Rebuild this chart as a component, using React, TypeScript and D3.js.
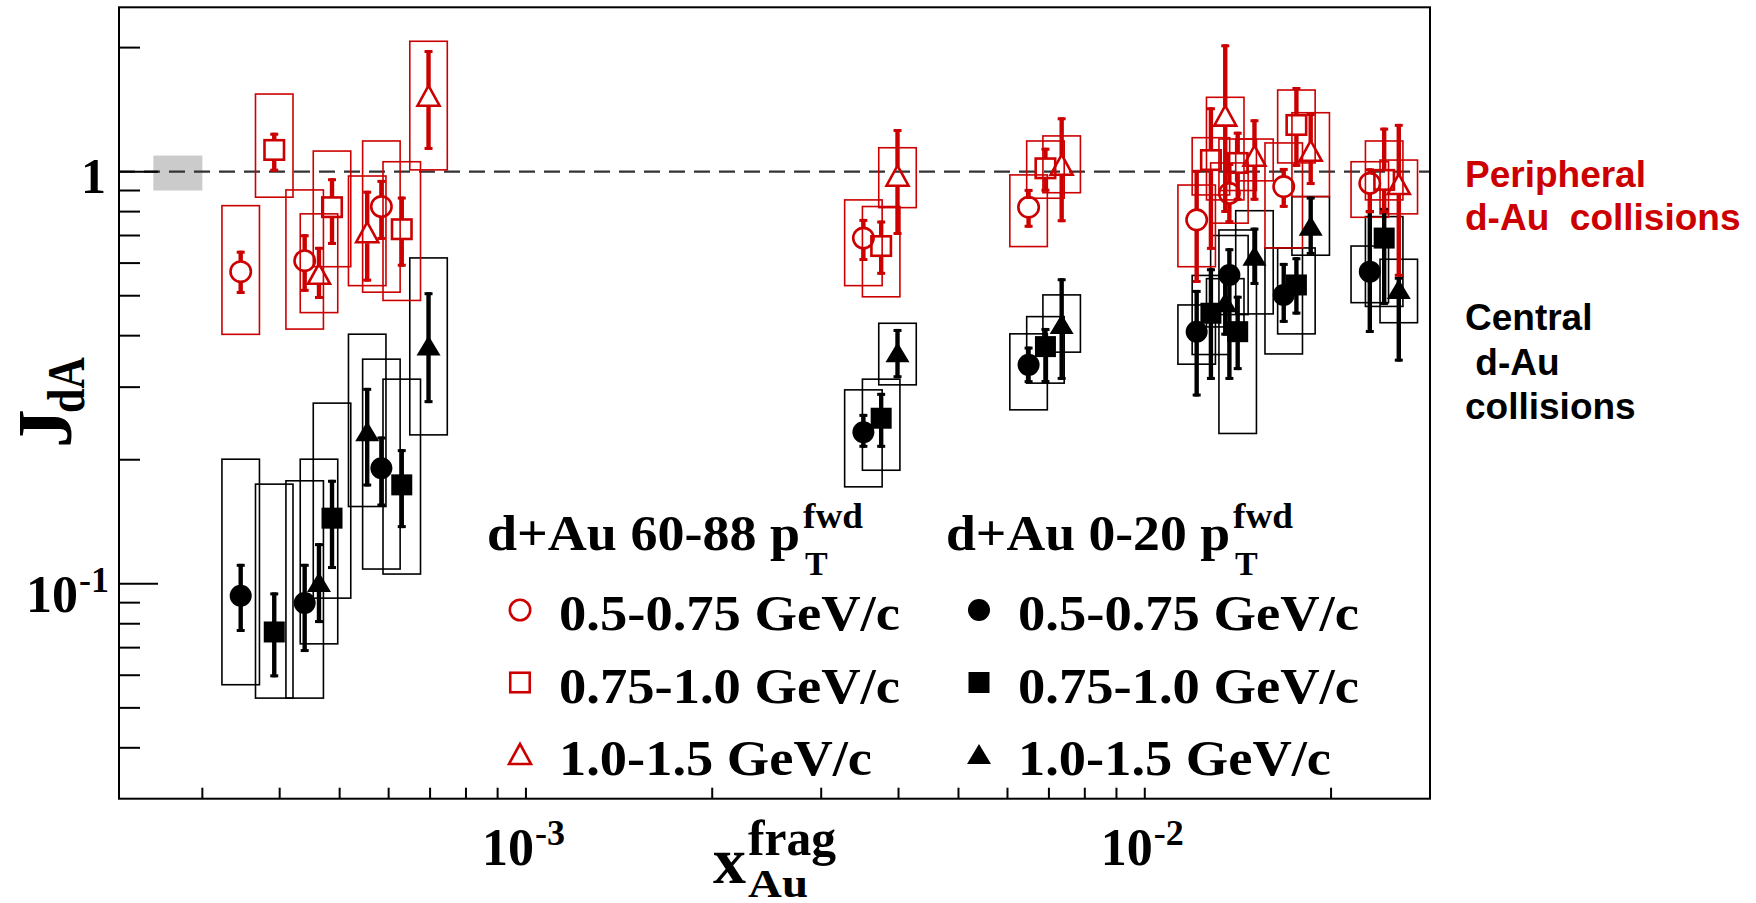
import React from 'react';
import * as d3 from 'd3';

const W = 1756;
const H = 903;
const RED = '#cc0000';
const SERIF = "'Liberation Serif', 'Times New Roman', serif";
const SANS = "'Liberation Sans', Arial, sans-serif";

// columns: x, J, stat low, stat high, sys low, sys high
const periphLow = [
  [3.46e-4, 0.572, 0.505, 0.643, 0.403, 0.827],
  [4.39e-4, 0.608, 0.511, 0.705, 0.415, 0.903],
  [5.84e-4, 0.823, 0.683, 0.955, 0.51, 1.187],
  [3.51e-3, 0.69, 0.607, 0.768, 0.529, 0.854],
  [6.49e-3, 0.82, 0.731, 0.908, 0.658, 0.982],
  [1.213e-2, 0.764, 0.537, 1.01, 0.588, 0.928],
  [1.37e-2, 0.886, 0.75, 1.05, 0.75, 1.05],
  [1.677e-2, 0.92, 0.817, 1.021, 0.653, 1.174],
  [2.31e-2, 0.937, 0.793, 1.019, 0.775, 1.057],
];
const periphMid = [
  [3.92e-4, 1.129, 1.0, 1.243, 0.867, 1.543],
  [4.86e-4, 0.82, 0.664, 0.964, 0.588, 1.122],
  [6.3e-4, 0.725, 0.588, 0.87, 0.487, 1.057],
  [3.75e-3, 0.66, 0.562, 0.761, 0.497, 0.823],
  [6.91e-3, 1.019, 0.894, 1.143, 0.862, 1.187],
  [1.279e-2, 1.067, 0.646, 1.433, 0.878, 1.209],
  [1.413e-2, 1.05, 0.85, 1.25, 0.9, 1.2],
  [1.758e-2, 1.298, 1.027, 1.605, 1.05, 1.578],
  [2.437e-2, 0.955, 0.793, 1.279, 0.854, 1.187],
];
const periphHigh = [
  [4.63e-4, 0.562, 0.491, 0.657, 0.455, 0.79],
  [5.54e-4, 0.709, 0.541, 0.899, 0.529, 0.976],
  [6.96e-4, 1.52, 1.129, 1.973, 1.01, 2.072],
  [3.985e-3, 0.972, 0.702, 1.269, 0.818, 1.143],
  [7.34e-3, 1.034, 0.754, 1.355, 0.889, 1.221],
  [1.349e-2, 1.36, 0.794, 2.037, 0.854, 1.515],
  [1.504e-2, 1.087, 0.85, 1.34, 0.95, 1.2],
  [1.854e-2, 1.118, 0.928, 1.388, 0.87, 1.39],
  [2.573e-2, 0.928, 0.556, 1.306, 0.79, 1.067],
];
const centralLow = [
  [3.46e-4, 0.0935, 0.0764, 0.1118, 0.0569, 0.2006],
  [4.39e-4, 0.0898, 0.0683, 0.1118, 0.0528, 0.1778],
  [5.84e-4, 0.1908, 0.154, 0.2277, 0.1086, 0.3508],
  [3.51e-3, 0.2333, 0.2138, 0.2584, 0.1719, 0.2955],
  [6.49e-3, 0.3398, 0.3068, 0.3763, 0.2643, 0.4041],
  [1.213e-2, 0.409, 0.2847, 0.5165, 0.3411, 0.4749],
  [1.37e-2, 0.5616, 0.3124, 0.652, 0.45, 0.7],
  [1.677e-2, 0.502, 0.4296, 0.6006, 0.3612, 0.653],
  [2.31e-2, 0.572, 0.406, 0.807, 0.481, 0.66],
];
const centralMid = [
  [3.92e-4, 0.0764, 0.0593, 0.0953, 0.0528, 0.1745],
  [4.86e-4, 0.1443, 0.1086, 0.1788, 0.0923, 0.2744],
  [6.3e-4, 0.1738, 0.1365, 0.2122, 0.1056, 0.3137],
  [3.75e-3, 0.2522, 0.2138, 0.2906, 0.1886, 0.3137],
  [6.91e-3, 0.3763, 0.307, 0.4176, 0.3068, 0.4449],
  [1.279e-2, 0.4534, 0.3124, 0.583, 0.36, 0.56],
  [1.413e-2, 0.409, 0.33, 0.5, 0.2316, 0.722],
  [1.758e-2, 0.531, 0.45, 0.62, 0.404, 0.653],
  [2.437e-2, 0.69, 0.475, 0.817, 0.471, 0.778],
];
const centralHigh = [
  [4.63e-4, 0.1004, 0.0803, 0.1255, 0.0715, 0.2006],
  [5.54e-4, 0.2331, 0.1722, 0.2988, 0.154, 0.4033],
  [6.96e-4, 0.3763, 0.2744, 0.5099, 0.2298, 0.6176],
  [3.985e-3, 0.3626, 0.3154, 0.4153, 0.3039, 0.4287],
  [7.34e-3, 0.4247, 0.3124, 0.5513, 0.3648, 0.5023],
  [1.349e-2, 0.4796, 0.4, 0.57, 0.42, 0.55],
  [1.504e-2, 0.622, 0.531, 0.7315, 0.4517, 0.804],
  [1.854e-2, 0.7355, 0.628, 0.87, 0.627, 0.87],
  [2.573e-2, 0.5165, 0.346, 0.556, 0.43, 0.613],
];

const ptBins = ['0.5-0.75 GeV/c', '0.75-1.0 GeV/c', '1.0-1.5 GeV/c'];
const legendHeaders = ['d+Au 60-88 p', 'd+Au 0-20 p'];
const sideLabels = [
  { lines: ['Peripheral', 'd-Au\u00a0\u00a0collisions'], color: RED },
  { lines: ['Central', '\u00a0d-Au', 'collisions'], color: '#000' },
];

const yMajor = [0.1, 1];
const yMinor = [0.04, 0.05, 0.06, 0.07, 0.08, 0.09, 0.2, 0.3, 0.4, 0.5, 0.6, 0.7, 0.8, 0.9, 2];
const xMajor = [1e-3, 1e-2];
const xMinor = [3e-4, 4e-4, 5e-4, 6e-4, 7e-4, 8e-4, 9e-4, 2e-3, 3e-3, 4e-3, 5e-3, 6e-3, 7e-3, 8e-3, 9e-3, 2e-2];
const yTickLabels = [{ v: 1, base: '1', exp: '' }, { v: 0.1, base: '10', exp: '-1' }];
const xTickLabels = [{ v: 1e-3, base: '10', exp: '-3' }, { v: 1e-2, base: '10', exp: '-2' }];
const normBand = { x0: 2.5e-4, x1: 3.0e-4, y0: 0.9, y1: 1.094 };

const frame = { left: 119, right: 1430, top: 7.3, bottom: 798.7 };
const x = d3.scaleLog().domain([2.2e-4, 2.89e-2]).range([frame.left, frame.right]);
const y = d3.scaleLog().domain([0.0301, 2.505]).range([frame.bottom, frame.top]);

type Shape = 'circle' | 'square' | 'triangle';
const series = [
  { data: centralLow, color: '#000', shape: 'circle' as Shape, filled: true },
  { data: centralMid, color: '#000', shape: 'square' as Shape, filled: true },
  { data: centralHigh, color: '#000', shape: 'triangle' as Shape, filled: true },
  { data: periphLow, color: RED, shape: 'circle' as Shape, filled: false },
  { data: periphMid, color: RED, shape: 'square' as Shape, filled: false },
  { data: periphHigh, color: RED, shape: 'triangle' as Shape, filled: false },
];

const BOX_W = 37.5;

function Marker({ shape, filled, color, cx, cy }: { shape: Shape; filled: boolean; color: string; cx: number; cy: number }) {
  const fill = filled ? color : 'none';
  const sw = filled ? 0 : 2.6;
  if (shape === 'circle') {
    return <circle cx={cx} cy={cy} r={filled ? 11 : 10.2} fill={fill} stroke={color} strokeWidth={sw} />;
  }
  if (shape === 'square') {
    const s = filled ? 21 : 19.5;
    return <rect x={cx - s / 2} y={cy - s / 2} width={s} height={s} fill={fill} stroke={color} strokeWidth={sw} />;
  }
  const hw = filled ? 12 : 11;
  const pts = [[cx, cy - 11], [cx + hw, cy + 9], [cx - hw, cy + 9]].map((p) => p.join(',')).join(' ');
  return <polygon points={pts} fill={fill} stroke={color} strokeWidth={sw} strokeLinejoin="miter" />;
}

function Point({ d, color, shape, filled }: { d: number[]; color: string; shape: Shape; filled: boolean }) {
  const [xv, yv, lo, hi] = d;
  const cx = x(xv);
  const cy = y(yv);
  const yHi = y(hi);
  const yLo = y(lo);
  const gap = filled ? 0 : 10;
  const segs: [number, number][] = [];
  if (filled) segs.push([yHi, yLo]);
  else {
    if (yHi < cy - gap) segs.push([yHi, cy - gap]);
    if (yLo > cy + gap) segs.push([cy + gap, yLo]);
  }
  return (
    <g>
      {segs.map((s, i) => (
        <line key={i} x1={cx} x2={cx} y1={s[0]} y2={s[1]} stroke={color} strokeWidth={4.4} />
      ))}
      <line x1={cx - 4} x2={cx + 4} y1={yHi + 1.5} y2={yHi + 1.5} stroke={color} strokeWidth={3} />
      <line x1={cx - 4} x2={cx + 4} y1={yLo - 1.5} y2={yLo - 1.5} stroke={color} strokeWidth={3} />
      <Marker shape={shape} filled={filled} color={color} cx={cx} cy={cy} />
    </g>
  );
}

export default function App() {
  const y1 = y(1);
  return (
    <div style={{ position: 'absolute', left: 0, top: 0 }}>
      <svg width={W} height={H} style={{ display: 'block', background: '#fff' }}>
        {/* normalisation band */}
        <rect
          x={x(normBand.x0)}
          y={y(normBand.y1)}
          width={x(normBand.x1) - x(normBand.x0)}
          height={y(normBand.y0) - y(normBand.y1)}
          fill="#cbcbcb"
        />
        <line x1={frame.left} x2={frame.right} y1={y1} y2={y1} stroke="#333" strokeWidth={2.4} strokeDasharray="16 9" />

        {/* systematic boxes */}
        {series.map((s, si) => (
          <g key={'b' + si}>
            {s.data.map((d, i) => (
              <rect
                key={i}
                x={x(d[0]) - BOX_W / 2}
                y={y(d[5])}
                width={BOX_W}
                height={y(d[4]) - y(d[5])}
                fill="none"
                stroke={s.color}
                strokeWidth={1.6}
              />
            ))}
          </g>
        ))}

        {/* points */}
        {series.map((s, si) => (
          <g key={'p' + si}>
            {s.data.map((d, i) => (
              <Point key={i} d={d} color={s.color} shape={s.shape} filled={s.filled} />
            ))}
          </g>
        ))}

        {/* frame and ticks */}
        <rect x={frame.left} y={frame.top} width={frame.right - frame.left} height={frame.bottom - frame.top} fill="none" stroke="#000" strokeWidth={2} />
        {yMajor.map((v) => (
          <line key={'ym' + v} x1={frame.left} x2={frame.left + 39} y1={y(v)} y2={y(v)} stroke="#000" strokeWidth={2} />
        ))}
        {yMinor.map((v) => (
          <line key={'yn' + v} x1={frame.left} x2={frame.left + 21} y1={y(v)} y2={y(v)} stroke="#000" strokeWidth={2} />
        ))}
        {xMajor.concat(xMinor).map((v) => (
          <line key={'x' + v} x1={x(v)} x2={x(v)} y1={frame.bottom} y2={frame.bottom - 11} stroke="#000" strokeWidth={2} />
        ))}

        {/* tick labels */}
        <g fontFamily={SERIF} fontWeight="bold" fill="#000">
          {yTickLabels.map((t) =>
            t.exp ? (
              <g key={t.v}>
                <text x={frame.left - 41} y={y(t.v) + 28} fontSize={52} textAnchor="end">{t.base}</text>
                <text x={frame.left - 40} y={y(t.v) + 8} fontSize={36}>{t.exp}</text>
              </g>
            ) : (
              <text key={t.v} x={frame.left - 13} y={y(t.v) + 21} fontSize={50} textAnchor="end">{t.base}</text>
            )
          )}
          {xTickLabels.map((t) => (
            <g key={t.v}>
              <text x={x(t.v) + 8} y={frame.bottom + 66} fontSize={52} textAnchor="end">{t.base}</text>
              <text x={x(t.v) + 9} y={frame.bottom + 46} fontSize={36}>{t.exp}</text>
            </g>
          ))}
        </g>

        {/* axis titles */}
        <g fontFamily={SERIF} fontWeight="bold" fill="#000">
          <text x={713} y={883} fontSize={66}>x</text>
          <text x={748} y={855} fontSize={50} textLength={88} lengthAdjust="spacingAndGlyphs">frag</text>
          <text x={748} y={897} fontSize={40} textLength={60} lengthAdjust="spacingAndGlyphs">Au</text>
          <text transform="translate(71,448) rotate(-90)" fontSize={78}>J</text>
          <text transform="translate(84,413) rotate(-90)" fontSize={52} textLength={56} lengthAdjust="spacingAndGlyphs">dA</text>
        </g>

        {/* legend */}
        <g fontFamily={SERIF} fontWeight="bold" fill="#000">
          {legendHeaders.map((h, c) => {
            const x0 = c === 0 ? 487 : 946;
            const len = c === 0 ? 313 : 284;
            return (
              <g key={h}>
                <text x={x0} y={550} fontSize={50} textLength={len} lengthAdjust="spacingAndGlyphs">{h}</text>
                <text x={x0 + len + 3} y={528} fontSize={36} textLength={60} lengthAdjust="spacingAndGlyphs">fwd</text>
                <text x={x0 + len + 5} y={575} fontSize={34}>T</text>
              </g>
            );
          })}
          {series.map((s, si) => {
            const col = s.filled ? 1 : 0;
            const row = si % 3;
            const mx = col === 0 ? 520 : 979;
            const my = 610 + row * 72.5;
            const label = ptBins[row];
            const len = label.startsWith('1.0') ? 313 : 341;
            return (
              <g key={'l' + si}>
                <Marker shape={s.shape} filled={s.filled} color={s.color} cx={mx} cy={my} />
                <text x={mx + 39} y={my + 20} fontSize={50} textLength={len} lengthAdjust="spacingAndGlyphs">{label}</text>
              </g>
            );
          })}
        </g>

        {/* side labels */}
        <g fontFamily={SANS} fontWeight="bold" fontSize={37}>
          {sideLabels[0].lines.map((l, i) => (
            <text key={l} x={1465} y={187 + i * 43} fill={sideLabels[0].color} xmlSpace="preserve">{l}</text>
          ))}
          {sideLabels[1].lines.map((l, i) => (
            <text key={l} x={1465} y={330 + i * 44.5} fill={sideLabels[1].color} xmlSpace="preserve">{l}</text>
          ))}
        </g>
      </svg>
    </div>
  );
}
